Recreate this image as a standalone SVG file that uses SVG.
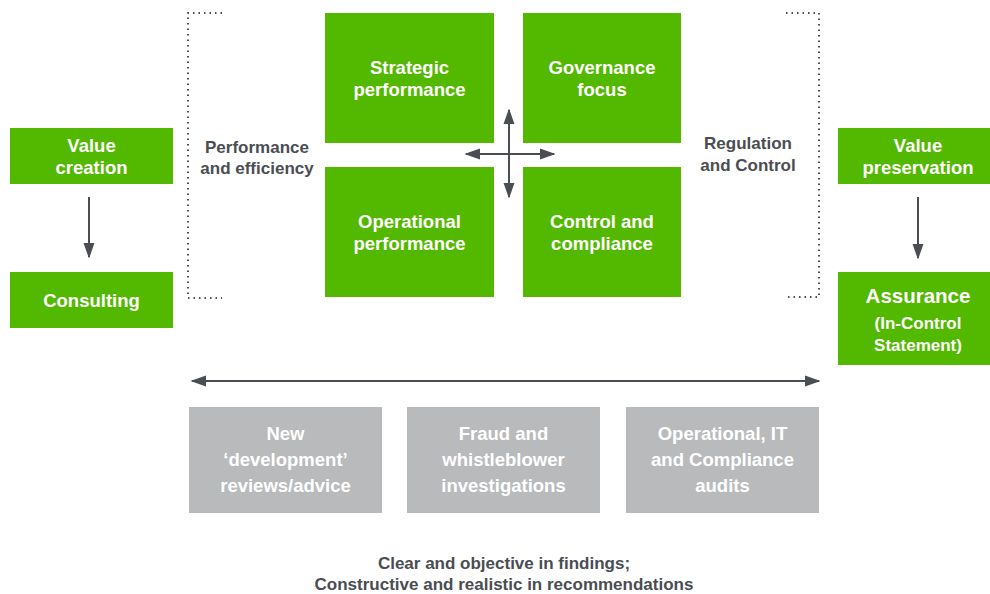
<svg xmlns="http://www.w3.org/2000/svg" width="990" height="594" viewBox="0 0 990 594">
<defs>
<style>
.g{fill:#52b800}
.gr{fill:#b9babc}
.wt{fill:#fff;font-family:"Liberation Sans",Arial,sans-serif;font-weight:bold;font-size:18.5px;text-anchor:middle}
.ws{fill:#fff;font-family:"Liberation Sans",Arial,sans-serif;font-weight:bold;font-size:17px;text-anchor:middle}
.ct{fill:#fff;font-family:"Liberation Sans",Arial,sans-serif;font-weight:bold;font-size:18.5px;text-anchor:middle}
.dt{fill:#4a4d52;font-family:"Liberation Sans",Arial,sans-serif;font-weight:bold;font-size:17px;text-anchor:middle}
.ln{stroke:#4a4d52;stroke-width:2;fill:none}
.dot{stroke:#4a4d52;stroke-width:2;fill:none;stroke-dasharray:1.5 4;stroke-linecap:butt}
</style>
<marker id="ah2" viewBox="0 0 10 10" refX="9" refY="5" markerWidth="16" markerHeight="16" markerUnits="userSpaceOnUse" orient="auto-start-reverse">
<path d="M0,1.5 L10,5 L0,8.5 z" fill="#4a4d52"/>
</marker>
</defs>
<g id="value-creation"><rect class="g" x="10" y="128" width="163" height="56"/><text class="wt" x="91.5" y="152">Value</text><text class="wt" x="91.5" y="174">creation</text></g>
<g id="consulting"><rect class="g" x="10" y="272" width="163" height="56"/><text class="wt" x="91.5" y="307">Consulting</text></g>
<g id="value-preservation"><rect class="g" x="838" y="128" width="152" height="56"/><text class="wt" x="918" y="152">Value</text><text class="wt" x="918" y="174">preservation</text></g>
<g id="assurance"><rect class="g" x="838" y="272" width="152" height="93"/><text class="wt" x="918" y="303" style="font-size:20.5px">Assurance</text><text class="ws" x="918" y="329">(In-Control</text><text class="ws" x="918" y="351">Statement)</text></g>
<g id="strategic"><rect class="g" x="325" y="13" width="169" height="130"/><text class="wt" x="409.5" y="74">Strategic</text><text class="wt" x="409.5" y="96">performance</text></g>
<g id="governance"><rect class="g" x="523" y="13" width="158" height="130"/><text class="wt" x="602" y="74">Governance</text><text class="wt" x="602" y="96">focus</text></g>
<g id="operational"><rect class="g" x="325" y="167" width="169" height="130"/><text class="wt" x="409.5" y="228">Operational</text><text class="wt" x="409.5" y="250">performance</text></g>
<g id="control"><rect class="g" x="523" y="167" width="158" height="130"/><text class="wt" x="602" y="228">Control and</text><text class="wt" x="602" y="250">compliance</text></g>
<g id="perf-label"><path class="dot" d="M222,13 H188 V298 H222"/><text class="dt" x="257" y="153">Performance</text><text class="dt" x="257" y="174">and efficiency</text></g>
<g id="reg-label"><path class="dot" d="M786,13 H819 V297 H784"/><text class="dt" x="748" y="149">Regulation</text><text class="dt" x="748" y="171">and Control</text></g>
<g id="new-dev"><rect class="gr" x="189" y="407" width="193" height="106"/><text class="ct" x="285.5" y="440">New</text><text class="ct" x="285.5" y="466">‘development’</text><text class="ct" x="285.5" y="492">reviews/advice</text></g>
<g id="fraud"><rect class="gr" x="407" y="407" width="193" height="106"/><text class="ct" x="503.5" y="440">Fraud and</text><text class="ct" x="503.5" y="466">whistleblower</text><text class="ct" x="503.5" y="492">investigations</text></g>
<g id="audits"><rect class="gr" x="626" y="407" width="193" height="106"/><text class="ct" x="722.5" y="440">Operational, IT</text><text class="ct" x="722.5" y="466">and Compliance</text><text class="ct" x="722.5" y="492">audits</text></g>
<g id="footer"><text class="dt" x="504" y="569">Clear and objective in findings;</text><text class="dt" x="504" y="590">Constructive and realistic in recommendations</text></g>
<g id="connectors">
<line class="ln" x1="89" y1="197" x2="89" y2="257" marker-end="url(#ah2)"/>
<line class="ln" x1="918" y1="197" x2="918" y2="258" marker-end="url(#ah2)"/>
<line class="ln" x1="509" y1="110" x2="509" y2="197" marker-start="url(#ah2)" marker-end="url(#ah2)"/>
<line class="ln" x1="466" y1="154" x2="554" y2="154" marker-start="url(#ah2)" marker-end="url(#ah2)"/>
<line class="ln" x1="192" y1="381" x2="819" y2="381" marker-start="url(#ah2)" marker-end="url(#ah2)"/>
</g>
</svg>
